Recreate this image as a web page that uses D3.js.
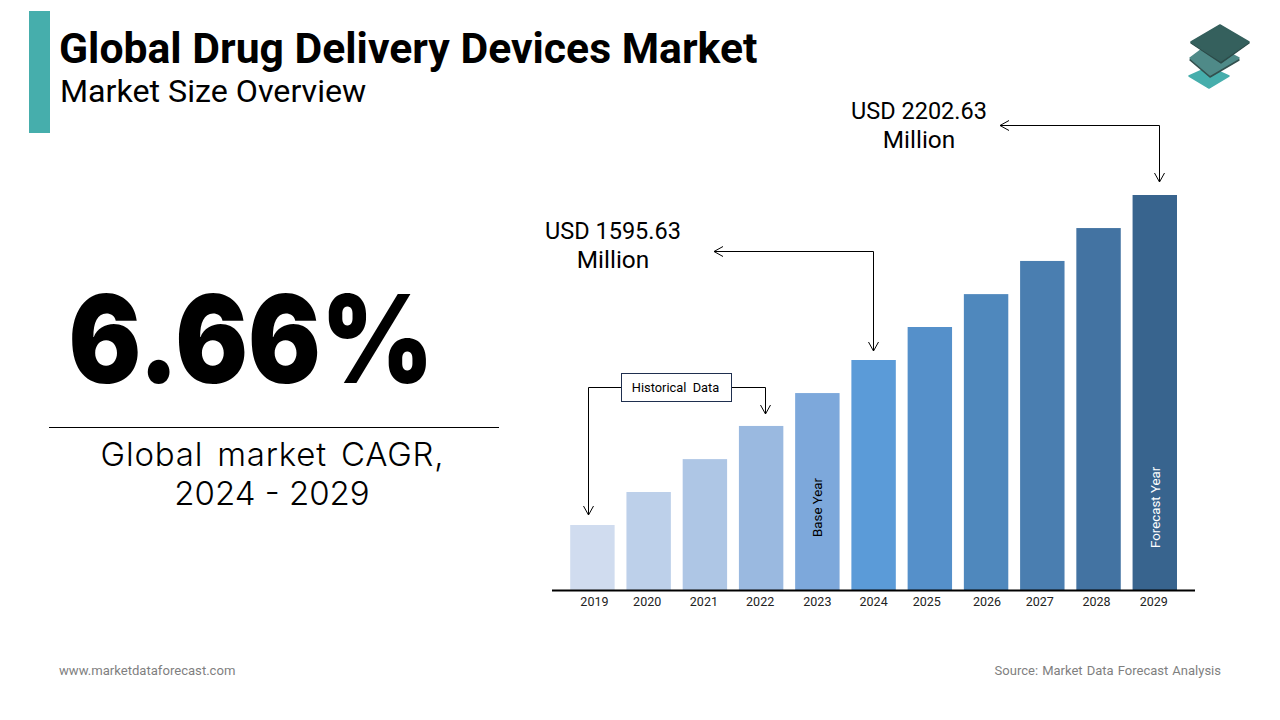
<!DOCTYPE html>
<html>
<head>
<meta charset="utf-8">
<title>Global Drug Delivery Devices Market</title>
<script src="https://cdn.jsdelivr.net/npm/d3@7"></script>
<style>
  html, body { margin: 0; padding: 0; background: #fff; }
  svg { display: block; }
  text { font-family: Roboto, sans-serif; white-space: pre; }
</style>
</head>
<body>
<svg id="chart" width="1280" height="720"></svg>
<script>
var years = ["2019", "2020", "2021", "2022", "2023", "2024", "2025", "2026", "2027", "2028", "2029"];
var marketSize = [988.6, 1110, 1231, 1353, 1474, 1595.63, 1717, 1838, 1960, 2081, 2202.63];
var barColors = ["#d0dcef", "#bdd0ea", "#aec6e5", "#9ab9e0", "#7da8db", "#5b9bd8",
                 "#5590ca", "#4f88bd", "#4a7eb0", "#4373a2", "#38648e"];

var svg = d3.select("#chart");

var x = d3.scaleBand().domain(years).range([570.2, 1177]).paddingInner(0.21);
// Bars do not start at zero in the original graphic
var y = d3.scaleLinear().domain([749.5, 2202.63]).range([590, 195]);

function addText(t, px, py, size, opts) {
  opts = opts || {};
  return svg.append("text")
    .attr("x", px).attr("y", py)
    .attr("font-size", size)
    .attr("font-weight", opts.weight || 400)
    .attr("text-anchor", opts.anchor || "start")
    .attr("fill", opts.fill || "#000")
    .style("font-family", opts.family || null)
    .style("letter-spacing", opts.spacing || null)
    .style("word-spacing", opts.wordSpacing || null)
    .text(t);
}

// Header
svg.append("rect").attr("x", 29).attr("y", 11).attr("width", 21).attr("height", 122).attr("fill", "#46aeac");
addText("Global Drug Delivery Devices Market", 59, 63, 42.7, {weight: 700});
addText("Market Size Overview", 60, 102, 32.2);

// Logo
var logo = svg.append("g");
[
  {c: "#46aeac", pts: [[1209, 67], [1229, 76], [1209, 88], [1189, 76]]},
  {c: "#33504e", pts: [[1210, 45], [1239, 60], [1210, 77], [1190, 60]]},
  {c: "#4f8a88", pts: [[1210, 43], [1239, 58], [1210, 75], [1190, 58]]},
  {c: "#2c4a48", pts: [[1220, 26], [1249, 43], [1221, 63], [1191, 43]]},
  {c: "#35605d", pts: [[1220, 25], [1249, 42], [1221, 61], [1191, 42]]}
].forEach(function (d) {
  logo.append("polygon").attr("points", d.pts.join(" ")).attr("fill", d.c)
    .attr("stroke", d.c).attr("stroke-width", 1.5).attr("stroke-linejoin", "round");
});

// Left panel
addText("6.66%", 0, 0, 122, {weight: 900, anchor: "middle", family: "Inter, sans-serif"})
  .attr("transform", "translate(251,382.5) scale(0.885,1)");
svg.append("line").attr("x1", 49).attr("x2", 499).attr("y1", 427.5).attr("y2", 427.5)
  .attr("stroke", "#000").attr("stroke-width", 1);
addText("Global market CAGR,", 272.5, 466, 33, {weight: 300, anchor: "middle", family: "Inter, sans-serif", spacing: "0.8px", wordSpacing: "4px"});
addText("2024 - 2029", 272, 505, 33, {weight: 300, anchor: "middle", family: "Inter, sans-serif"});

// Bars
svg.append("g").selectAll("rect")
  .data(marketSize)
  .join("rect")
  .attr("x", function (d, i) { return x(years[i]); })
  .attr("y", function (d) { return y(d); })
  .attr("width", x.bandwidth())
  .attr("height", function (d) { return y.range()[0] - y(d); })
  .attr("fill", function (d, i) { return barColors[i]; });

// Axis, the original labels sit slightly off the bar centres
var labelNudge = [2, -1.5, -1, -1, 0, 0, -3, 1, -2.5, -2, -1];
var axis = svg.append("g")
  .attr("transform", "translate(0,590.5)")
  .call(d3.axisBottom(x).tickSize(0).tickPadding(7));
axis.select(".domain").remove();
axis.selectAll("text").attr("font-size", 12.5).attr("fill", "#222")
  .attr("dx", function (d, i) { return labelNudge[i]; })
  .style("font-family", "Roboto, sans-serif");
svg.append("line").attr("x1", 552).attr("x2", 1195).attr("y1", 590.5).attr("y2", 590.5)
  .attr("stroke", "#000").attr("stroke-width", 2);

// Labels inside bars
function barLabel(t, year, py, fill) {
  var cx = x(year) + x.bandwidth() / 2;
  svg.append("text")
    .attr("transform", "translate(" + (cx + 5) + "," + py + ") rotate(-90)")
    .attr("font-size", 13.3).attr("fill", fill)
    .text(t);
}
barLabel("Base Year", "2023", 537, "#000");
barLabel("Forecast Year", "2029", 548, "#fff");

// Callouts
function arrowHead(px, py, dir) {
  var p = dir == "left" ? [[px + 9, py - 5], [px, py], [px + 9, py + 5]]
                        : [[px - 5, py - 9], [px, py], [px + 5, py - 9]];
  svg.append("polyline").attr("points", p.join(" ")).attr("fill", "none")
    .attr("stroke", "#000").attr("stroke-width", 1);
}
function path(pts) {
  svg.append("path").attr("d", d3.line()(pts)).attr("fill", "none")
    .attr("stroke", "#000").attr("stroke-width", 1);
}

path([[1000, 125.5], [1159.5, 125.5], [1159.5, 182]]);
arrowHead(1000, 125.5, "left");
arrowHead(1159.5, 182, "down");
addText("USD 2202.63", 919, 119, 23.5, {anchor: "middle"});
addText("Million", 919, 148, 24.4, {anchor: "middle"});

path([[714, 251.5], [873.5, 251.5], [873.5, 351]]);
arrowHead(714, 251.5, "left");
arrowHead(873.5, 351, "down");
addText("USD 1595.63", 613, 239, 23.5, {anchor: "middle"});
addText("Million", 613, 268, 24.4, {anchor: "middle"});

path([[621, 387.5], [588.5, 387.5], [588.5, 515]]);
arrowHead(588.5, 515, "down");
path([[732, 387.5], [765.5, 387.5], [765.5, 414]]);
arrowHead(765.5, 414, "down");
svg.append("rect").attr("x", 621.5).attr("y", 373.5).attr("width", 110).attr("height", 28)
  .attr("fill", "#fff").attr("stroke", "#1f2f4f").attr("stroke-width", 1);
addText("Historical  Data", 675.5, 392, 12.8, {anchor: "middle"});

// Footer
addText("www.marketdataforecast.com", 59, 675, 13.1, {fill: "#7f7f7f"});
addText("Source: Market Data Forecast Analysis", 1221, 675, 13, {anchor: "end", fill: "#7f7f7f", wordSpacing: "0.9px"});
</script>
</body>
</html>
